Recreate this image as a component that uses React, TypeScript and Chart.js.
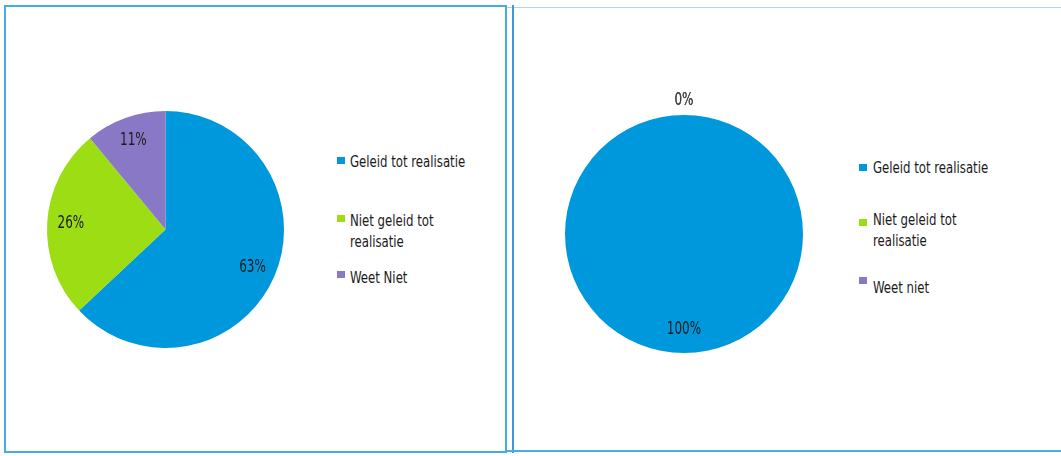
import React, { useEffect, useRef } from "react";
import { Chart, registerables } from "chart.js";

Chart.register(...registerables);

const categoriesLeft = ["Geleid tot realisatie", "Niet geleid tot realisatie", "Weet Niet"];
const legendLinesLeft = [["Geleid tot realisatie"], ["Niet geleid tot", "realisatie"], ["Weet Niet"]];
const valuesLeft = [63, 26, 11];

const categoriesRight = ["Geleid tot realisatie", "Niet geleid tot realisatie", "Weet niet"];
const legendLinesRight = [["Geleid tot realisatie"], ["Niet geleid tot", "realisatie"], ["Weet niet"]];
const valuesRight = [100, 0, 0];

const sliceColors = ["#0098DC", "#9CDD14", "#8878C6"];

const FONT = '"DejaVu Sans Condensed", "Liberation Sans Narrow", Arial, sans-serif';
const LEGEND_SQUEEZE = 0.815;
const LABEL_SQUEEZE = 0.74;

const labelPlugin = {
  id: "pctLabels",
  afterDatasetsDraw(chart: any) {
    const ctx = chart.ctx;
    const meta = chart.getDatasetMeta(0);
    const data = chart.data.datasets[0].data as number[];
    meta.data.forEach((arc: any, i: number) => {
      const p = arc.getProps(["x", "y", "startAngle", "endAngle", "outerRadius"], true);
      const mid = (p.startAngle + p.endAngle) / 2;
      const v = data[i];
      const d = v === 0 ? p.outerRadius + 15 : p.outerRadius * 0.8;
      const tx = p.x + Math.cos(mid) * d;
      const ty = p.y + Math.sin(mid) * d;
      ctx.save();
      ctx.translate(tx, ty);
      ctx.scale(LABEL_SQUEEZE, 1);
      ctx.font = `18px ${FONT}`;
      ctx.fillStyle = v === 0 ? "#444" : "#1a1a1a";
      ctx.textAlign = "center";
      ctx.textBaseline = "middle";
      ctx.fillText(`${v}%`, 0, 0);
      ctx.restore();
    });
  },
};

function Pie({ labels, values, left, top, size }: { labels: string[]; values: number[]; left: number; top: number; size: number }) {
  const ref = useRef<HTMLCanvasElement>(null);
  useEffect(() => {
    const chart = new Chart(ref.current!, {
      type: "pie",
      data: {
        labels,
        datasets: [{ data: values, backgroundColor: sliceColors, borderWidth: 0 }],
      },
      options: {
        animation: false,
        responsive: false,
        maintainAspectRatio: false,
        layout: { padding: 30 },
        plugins: { legend: { display: false }, tooltip: { enabled: false } },
      },
      plugins: [labelPlugin],
    });
    return () => chart.destroy();
  }, []);
  return (
    <canvas
      ref={ref}
      width={size}
      height={size}
      style={{ position: "absolute", left, top, width: size, height: size }}
    />
  );
}

function Legend({ lines, x, sq, tops, sqTops }: { lines: string[][]; x: number; sq: number; tops: number[]; sqTops: number[] }) {
  return (
    <>
      {lines.map((ls, i) => (
        <React.Fragment key={i}>
          <div style={{ position: "absolute", left: sq, top: sqTops[i], width: 8, height: 7, background: sliceColors[i] }} />
          <div
            style={{
              position: "absolute",
              left: x,
              top: tops[i],
              fontFamily: FONT,
              fontSize: 16,
              lineHeight: "21px",
              color: "#1a1a1a",
              whiteSpace: "nowrap",
              transform: `scaleX(${LEGEND_SQUEEZE})`,
              transformOrigin: "0 0",
            }}
          >
            {ls.map((l, j) => (
              <div key={j}>{l}</div>
            ))}
          </div>
        </React.Fragment>
      ))}
    </>
  );
}

export default function App() {
  return (
    <div style={{ position: "fixed", left: 0, top: 0, width: 1061, height: 456, background: "#fff", overflow: "hidden" }}>
      {/* left panel frame */}
      <div style={{ position: "absolute", left: 4, top: 5, width: 499, height: 444, border: "2px solid #45ABE2" }} />
      {/* right panel frame */}
      <div style={{ position: "absolute", left: 507, top: 7, width: 554, height: 1, background: "#A9DAEA" }} />
      <div style={{ position: "absolute", left: 512, top: 5, width: 2, height: 448, background: "#3D9AD6" }} />
      <div style={{ position: "absolute", left: 507, top: 450, width: 554, height: 2, background: "#45AEE6" }} />

      <Pie labels={categoriesLeft} values={valuesLeft} left={17} top={81} size={297} />
      <Legend lines={legendLinesLeft} x={350} sq={337} tops={[150.7, 209.7, 267.3]} sqTops={[157, 215, 271]} />

      <Pie labels={categoriesRight} values={valuesRight} left={535} top={85} size={298} />
      <Legend lines={legendLinesRight} x={873} sq={859} tops={[157.3, 209, 277.3]} sqTops={[164, 219, 277]} />
    </div>
  );
}
